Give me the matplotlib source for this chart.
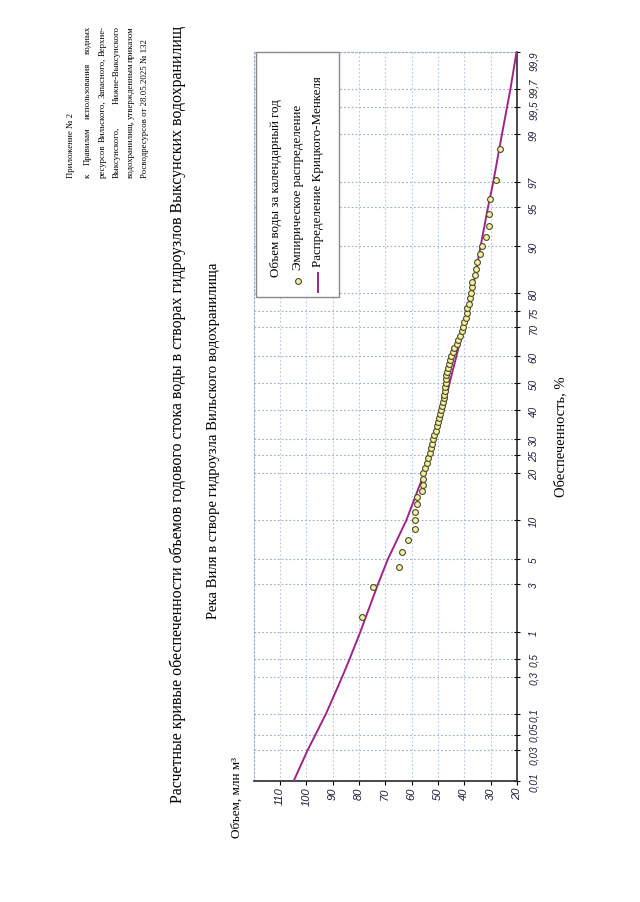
import numpy as np
import matplotlib
matplotlib.use("Agg")
import matplotlib.pyplot as plt
from matplotlib.patches import Rectangle
from matplotlib.lines import Line2D
from matplotlib.ticker import NullLocator
from matplotlib.transforms import ScaledTranslation
from statistics import NormalDist

plt.rcParams['font.family'] = ['Liberation Serif', 'DejaVu Serif']

# эмпирическая обеспеченность, %
emp_p = [1.43, 2.86, 4.29, 5.71, 7.14, 8.57, 10.00, 11.43, 12.86, 14.29,
         15.71, 17.14, 18.57, 20.00, 21.43, 22.86, 24.29, 25.71, 27.14, 28.57,
         30.00, 31.43, 32.86, 34.29, 35.71, 37.14, 38.57, 40.00, 41.43, 42.86,
         44.29, 45.71, 47.14, 48.57, 50.00, 51.43, 52.86, 54.29, 55.71, 57.14,
         58.57, 60.00, 61.43, 62.86, 64.29, 65.71, 67.14, 68.57, 70.00, 71.43,
         72.86, 74.29, 75.71, 77.14, 78.57, 80.00, 81.43, 82.86, 84.29, 85.71,
         87.14, 88.57, 90.00, 91.43, 92.86, 94.29, 95.71, 97.14, 98.57]
# объем воды, млн м3
emp_v = [78.8, 74.6, 64.7, 63.8, 61.3, 58.9, 58.7, 58.6, 58.0, 57.9,
         55.9, 55.8, 55.7, 55.6, 55.0, 54.2, 53.7, 53.0, 52.6, 52.2,
         51.8, 51.4, 50.8, 50.3, 49.9, 49.6, 49.2, 48.7, 48.4, 48.0,
         47.8, 47.6, 47.3, 47.2, 47.1, 47.0, 46.8, 46.6, 46.3, 45.9,
         45.4, 45.1, 44.4, 43.9, 42.9, 42.3, 41.6, 41.0, 40.4, 40.0,
         39.5, 39.1, 38.9, 38.2, 37.8, 37.5, 37.2, 37.0, 35.8, 35.6,
         35.1, 34.2, 33.3, 31.8, 30.5, 30.5, 30.3, 28.1, 26.5]

# кривая Крицкого-Менкеля
curve_p = [0.01, 0.03, 0.05, 0.1, 0.3, 0.5, 1, 3, 5, 10, 20, 25, 30, 40, 50,
           60, 70, 75, 80, 90, 95, 97, 99, 99.5, 99.7, 99.9]
curve_v = [104.8, 99.5, 96.6, 92.5, 86.4, 83.5, 79.5, 72.8, 69.0, 62.0, 55.2,
           53.0, 51.0, 48.0, 45.6, 43.0, 40.2, 38.7, 37.1, 33.8, 31.0, 29.0,
           25.7, 23.8, 22.5, 20.2]

prob_ticks = [0.01, 0.03, 0.05, 0.1, 0.3, 0.5, 1, 3, 5, 10, 20, 25, 30, 40, 50,
              60, 70, 75, 80, 90, 95, 97, 99, 99.5, 99.7, 99.9]
prob_labels = ["0,01", "0,03", "0,05", "0,1", "0,3", "0,5", "1", "3", "5", "10",
               "20", "25", "30", "40", "50", "60", "70", "75", "80", "90", "95",
               "97", "99", "99,5", "99,7", "99,9"]
vol_ticks = [20, 30, 40, 50, 60, 70, 80, 90, 100, 110]

header = [
    ("Приложение № 2", False),
    ("к Правилам использования водных", True),
    ("ресурсов Вильского, Запасного, Верхне-", True),
    ("Выксунского, Нижне-Выксунского", True),
    ("водохранилищ, утвержденным приказом", True),
    ("Росводресурсов от 28.05.2025 № 132", False),
]
title = ("Расчетные кривые обеспеченности объемов годового стока воды "
         "в створах гидроузлов Выксунских водохранилищ")
subtitle = "Река Виля в створе гидроузла Вильского водохранилища"

W, H = 640, 903
curve_col = '#a0238a'


def fx(x):
    return x / W


def fy(y):
    return 1 - y / H


_nd = NormalDist()


def to_z(p):
    p = np.clip(np.asarray(p, dtype=float), 1e-4, 100 - 1e-4)
    return np.vectorize(lambda v: _nd.inv_cdf(v / 100.0), otypes=[float])(p)


def from_z(z):
    z = np.asarray(z, dtype=float)
    return np.vectorize(lambda v: _nd.cdf(v) * 100.0, otypes=[float])(z)


fig = plt.figure(figsize=(6.4, 9.03), dpi=100)
ax = fig.add_axes([fx(253.6), fy(782), (517 - 253.6) / W, (782 - 53.4) / H])
ax.set_yscale('function', functions=(to_z, from_z))
ax.set_xlim(120, 20)
ax.set_ylim(0.01, 99.9)

ax.plot(curve_v, curve_p, color=curve_col, lw=1.4, zorder=3)
ax.plot(emp_v, emp_p, 'o', ms=4.2, mfc='#f4f0a2', mec='#4a4a2a', mew=0.8,
        zorder=4, clip_on=False)

ax.set_xticks(vol_ticks)
ax.set_xticklabels([str(v) for v in vol_ticks])
ax.set_yticks(prob_ticks)
ax.set_yticklabels(prob_labels)
ax.yaxis.set_minor_locator(NullLocator())
ax.xaxis.set_minor_locator(NullLocator())
ax.yaxis.tick_right()

ax.tick_params(axis='y', direction='inout', length=5, width=0.8, pad=6,
               labelrotation=90, labelsize=7.2)
ax.tick_params(axis='x', direction='out', length=3, width=0.8, pad=1,
               labelrotation=90, labelsize=8)
for lab in ax.get_xticklabels() + ax.get_yticklabels():
    lab.set_fontfamily('Liberation Sans')
    lab.set_fontstyle('italic')
    lab.set_color('#1e1e3a')

# сдвиг тесно стоящих подписей (в точках)
shift = {"0,03": -2.5, "0,05": 2.5, "99,5": -1.0, "99,7": 1.0, "99,9": -5.5}
for lab in ax.get_yticklabels():
    lab.set_va('center')
    dy = shift.get(lab.get_text(), 0)
    if dy:
        lab.set_transform(lab.get_transform() +
                          ScaledTranslation(0, dy / 72, fig.dpi_scale_trans))

ax.grid(axis='x', color='#b4c8e0', ls=(0, (1.5, 2)), lw=0.8)
ax.grid(axis='y', color='#9aabc4', ls=(0, (1.5, 2)), lw=0.8)
for s in ['bottom', 'right']:
    ax.spines[s].set_color('#2a2a2a')
    ax.spines[s].set_linewidth(1.2)
for s in ['left', 'top']:
    ax.spines[s].set_color('#9aabc4')
    ax.spines[s].set_linestyle((0, (1.5, 2)))
    ax.spines[s].set_linewidth(0.8)

# легенда
fig.add_artist(Rectangle((fx(256), fy(298)), (339 - 256) / W, (298 - 53) / H,
                         transform=fig.transFigure, fc='white', ec='#8a8a8a',
                         lw=1.0, zorder=5))
fig.add_artist(Line2D([fx(298)], [fy(282)], marker='o', ms=4.2, mfc='#f4f0a2',
                      mec='#4a4a2a', mew=0.8, transform=fig.transFigure, zorder=6))
fig.add_artist(Line2D([fx(318), fx(318)], [fy(293), fy(274)], color=curve_col,
                      lw=1.4, transform=fig.transFigure, zorder=6))
fig.text(fx(276), fy(277), "Объем воды за календарный год", rotation=90,
         ha='center', va='bottom', fontsize=9.4, zorder=6)
fig.text(fx(298), fy(270), "Эмпирическое распределение", rotation=90,
         ha='center', va='bottom', fontsize=9.4, zorder=6)
fig.text(fx(318), fy(267), "Распределение Крицкого-Менкеля", rotation=90,
         ha='center', va='bottom', fontsize=9.4, zorder=6)

# подписи
fig.text(fx(178), fy(414), title, rotation=90, ha='center', va='center', fontsize=11.5)
fig.text(fx(213), fy(441), subtitle, rotation=90, ha='center', va='center',
         fontsize=10.6)
fig.text(fx(237), fy(838), "Объем, млн м³", rotation=90, ha='center', va='bottom',
         fontsize=9.5)
fig.text(fx(561), fy(437), "Обеспеченность, %", rotation=90, ha='center',
         va='center', fontsize=10.5)

# шапка (выравнивание по ширине)
renderer = fig.canvas.get_renderer()
head_x = [71, 88, 102.5, 116.5, 130.5, 144.5]
y_start, y_end = 178, 26
head_fs = 6.3
for (line, just), x in zip(header, head_x):
    if not just:
        fig.text(fx(x), fy(y_start), line, rotation=90, ha='center', va='bottom',
                 fontsize=head_fs)
        continue
    words = line.split()
    objs = [fig.text(fx(x), 0, w, rotation=90, ha='center', va='bottom',
                     fontsize=head_fs) for w in words]
    sizes = [o.get_window_extent(renderer).height for o in objs]
    gap = ((y_start - y_end) - sum(sizes)) / (len(words) - 1)
    pos = y_start
    for o, s in zip(objs, sizes):
        o.set_y(fy(pos))
        pos -= s + gap

fig.savefig('out.png', dpi=100)
